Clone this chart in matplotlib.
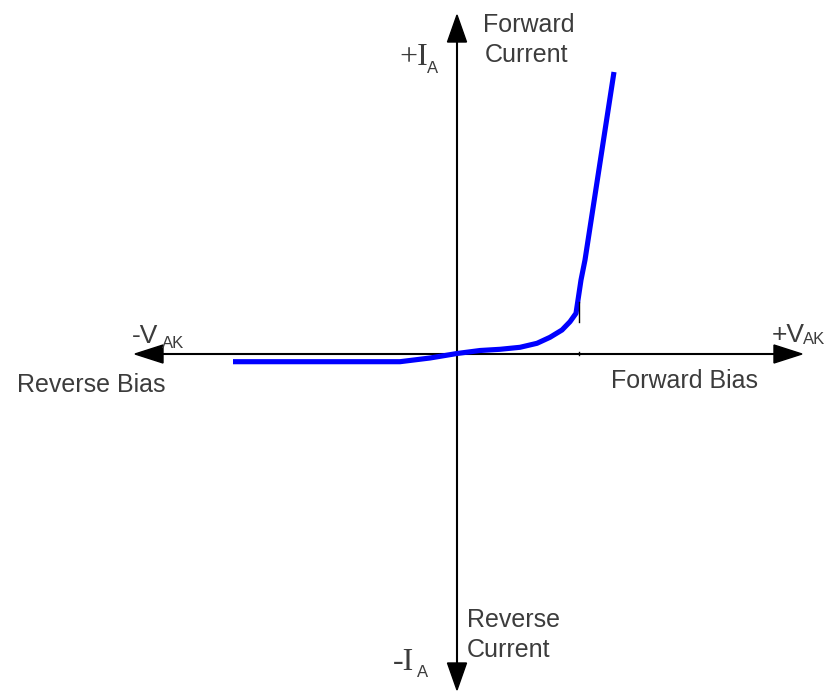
import numpy as np
import matplotlib
matplotlib.use("Agg")
from matplotlib import pyplot as plt

# diode I-V characteristic, units are arbitrary (origin at the crossing of the axes)
v_ak = [-225, -58, -28, -1, 22, 42, 62, 79, 92, 104, 112, 118, 120, 123, 127, 156]
i_a = [-8.7, -8.7, -5, -0.5, 2.5, 3.7, 5.7, 9.7, 15.7, 23, 31.3, 39.7, 53, 73, 93, 281]

txt_col = '#3c3c3c'
font = 'Liberation Sans'

fig = plt.figure(figsize=(8.39, 6.91), dpi=100)
ax = fig.add_axes([0, 0, 1, 1])
ax.set_xlim(-458, 381)
ax.set_ylim(-338, 353)
ax.axis('off')

# axes with arrow heads at both ends
ax.plot([-300, 320], [-1, -1], color='k', lw=1.5)
ax.plot([-1, -1], [-315, 315], color='k', lw=1.5)
for x0, dx in [(0, 344), (0, -323)]:
    ax.arrow(x0, -1, dx, 0, width=0.1, head_width=18, head_length=28,
             length_includes_head=True, fc='k', ec='k')
for dy in [338, -337]:
    ax.arrow(-1, 0, 0, dy, width=0.1, head_width=19, head_length=27,
             length_includes_head=True, fc='k', ec='k')

# the curve
ax.plot(v_ak, i_a, color='#0000ff', lw=3.7, solid_capstyle='butt',
        solid_joinstyle='round', zorder=3)

# small marks at the knee
ax.plot([121, 121], [31, 51], color='k', lw=1.0, zorder=4)
ax.plot([121, 121], [-2, 1], color='k', lw=1.0, zorder=4)

def label(x, y, s, size=18, fam=font):
    ax.text(x - 458, 353 - y, s, fontsize=size, family=fam, color=txt_col,
            ha='left', va='baseline')

label(483, 32, 'Forward')
label(485, 62, 'Current')
label(467, 627, 'Reverse')
label(467, 657, 'Current')
label(17, 392, 'Reverse Bias')
label(611, 388, 'Forward Bias')

# axis names with subscripts
label(399, 65, '+I', 23, 'Liberation Serif')
label(427, 73, 'A', 12)
label(393, 670, '-I', 23, 'Liberation Serif')
label(417, 677, 'A', 12)
label(132, 343, '-V', 19)
label(162, 348, 'AK', 12)
label(772, 342, '+V', 19)
label(803, 344, 'AK', 12)

plt.savefig('out.png', dpi=100)
